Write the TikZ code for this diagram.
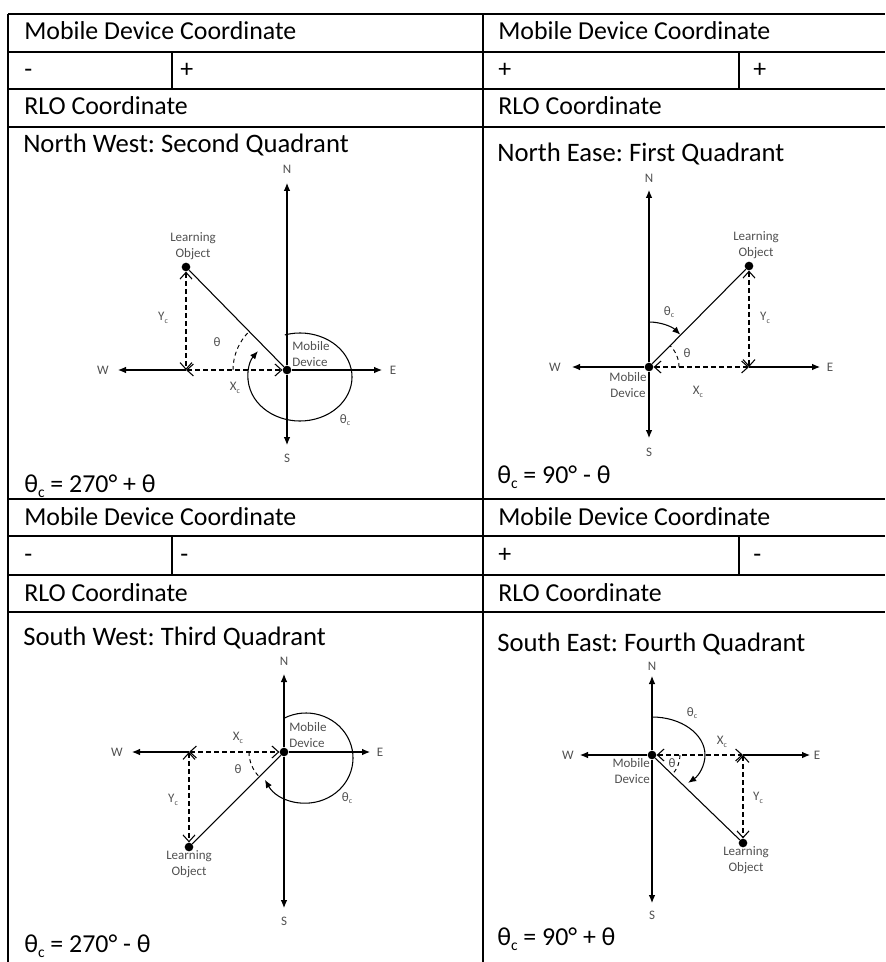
\documentclass[tikz,border=0pt]{standalone}
\usepackage{fontspec}
\usepackage{graphicx}
\setmainfont{Carlito}
\frenchspacing
\usetikzlibrary{arrows.meta}
\definecolor{lblgray}{RGB}{80,80,80}
\newcommand{\subc}{\raisebox{-0.45ex}{\scalebox{0.6}{c}}}
\tikzset{
  cell/.style={anchor=base west, inner sep=0pt, font=\fontsize{19.4}{23}\selectfont},
  head/.style={anchor=base west, inner sep=0pt, font=\fontsize{20}{24}\selectfont},
  lbl/.style={inner sep=0pt, text=lblgray, font=\fontsize{9.75}{12}\selectfont, align=center},
  dot/.style={circle, fill=black, inner sep=0pt, minimum size=6.5pt},
  grid/.style={line width=1.5pt},
  axis/.style={line width=0.8pt, -{Latex[length=6pt,width=5pt]}},
  dim/.style={line width=0.8pt, dash pattern=on 3.5pt off 2.5pt, {Straight Barb[length=5pt,width=9pt]}-{Straight Barb[length=5pt,width=9pt]}},
  ray/.style={line width=0.8pt},
  ang/.style={line width=0.8pt, -{Latex[length=6pt,width=5pt]}},
  angd/.style={line width=0.7pt, dash pattern=on 3pt off 2.5pt}
}
\begin{document}
\begin{tikzpicture}[x=0.75pt,y=-0.75pt]
    \useasboundingbox (0,0) rectangle (885,962);
    % table
    \draw[grid] (8,14) -- (885,14) (8,52) -- (885,52) (8,89) -- (885,89) (8,127) -- (885,127)
        (8,499) -- (885,499) (8,536) -- (885,536) (8,575) -- (885,575) (8,612) -- (885,612);
    \draw[grid] (8,14) -- (8,962) (483,14) -- (483,962)
        (172,52) -- (172,89) (739,52) -- (739,89) (172,536) -- (172,575) (739,536) -- (739,575);
    \begin{scope}[every node/.style={cell}]
        \node (t1) at (24,40) {Mobile Device Coordinate};
        \node (t2) at (498,40) {Mobile Device Coordinate};
        \node (t3) at (24,78) {-};
        \node (t4) at (180,78) {+};
        \node (t5) at (498,78) {+};
        \node (t6) at (753,78) {+};
        \node (t7) at (24,115) {RLO Coordinate};
        \node (t8) at (498,115) {RLO Coordinate};
        \node[head] (t9) at (23,153) {North West: Second Quadrant};
        \node[head] (t10) at (497,162) {North Ease: First Quadrant};
        \node (t11) at (24,492) {θ\subc{} = 270° + θ};
        \node (t12) at (497,483) {θ\subc{} = 90° - θ};
        \node (t13) at (24,525) {Mobile Device Coordinate};
        \node (t14) at (498,525) {Mobile Device Coordinate};
        \node (t15) at (24,562) {-};
        \node (t16) at (180,562) {-};
        \node (t17) at (498,562) {+};
        \node (t18) at (753,562) {-};
        \node (t19) at (24,601) {RLO Coordinate};
        \node (t20) at (498,601) {RLO Coordinate};
        \node[head] (t21) at (23,645) {South West: Third Quadrant};
        \node[head] (t22) at (497,651) {South East: Fourth Quadrant};
        \node (t23) at (24,952) {θ\subc{} = 270° - θ};
        \node (t24) at (497,945) {θ\subc{} = 90° + θ};
    \end{scope}
    % north west
    \begin{scope}[every node/.style={lbl}]
        \node[dot] (o1) at (287,370) {};
        \node[dot] (lo1) at (186,267) {};
        \coordinate (c1) at (186,370);
        \coordinate (m1) at (300,377);
        \coordinate (n1) at (287,183);
        \coordinate (s1) at (287,445);
        \coordinate (w1) at (118,370);
        \coordinate (e1) at (382,370);
        \node (ln1) at (287,169) {N};
        \node (ls1) at (287,458) {S};
        \node (lw1) at (103,370) {W};
        \node (le1) at (393,370) {E};
        \node (llo1) at (193,246) {Learning\\Object};
        \node[anchor=west, align=left] (lmd1) at (292,354) {Mobile\\Device};
        \node (ly1) at (163,318) {Y\subc};
        \node (lx1) at (235,388) {X\subc};
        \node (lt1) at (217,342) {θ};
        \node (ltc1) at (345,420) {θ\subc};
    \end{scope}
    \draw[axis] (o1) -- (n1);
    \draw[axis] (o1) -- (s1);
    \draw[axis] (c1) -- (w1);
    \draw[axis] (o1) -- (e1);
    \draw[ray] (o1) -- (lo1);
    \draw[dim] (lo1) -- (c1);
    \draw[dim] (c1) -- (o1);
    \draw[angd] (o1.center) ++(180:54) arc[start angle=180, end angle=226, radius=54];
    \draw[ang] (m1) ++(-107:52 and 44) arc[start angle=-107, end angle=216, x radius=52, y radius=44];
    % north east
    \begin{scope}[every node/.style={lbl}]
        \node[dot] (o2) at (649,367) {};
        \node[dot] (lo2) at (749,266) {};
        \coordinate (c2) at (749,367);
        \coordinate (n2) at (649,190);
        \coordinate (s2) at (649,438);
        \coordinate (w2) at (572,367);
        \coordinate (e2) at (820,367);
        \node (ln2) at (649,178) {N};
        \node (ls2) at (649,452) {S};
        \node (lw2) at (555,367) {W};
        \node (le2) at (830,367) {E};
        \node (llo2) at (756,245) {Learning\\Object};
        \node (lmd2) at (628,385) {Mobile\\Device};
        \node (ly2) at (765,318) {Y\subc};
        \node (lx2) at (698,392) {X\subc};
        \node (lt2) at (687,353) {θ};
        \node (ltc2) at (669,312) {θ\subc};
    \end{scope}
    \draw[axis] (o2) -- (n2);
    \draw[axis] (o2) -- (s2);
    \draw[axis] (o2) -- (w2);
    \draw[axis] (c2) -- (e2);
    \draw[ray] (o2) -- (lo2);
    \draw[dim] (lo2) -- (c2);
    \draw[dim] (o2) -- (c2);
    \draw[angd] (o2.center) ++(0:30) arc[start angle=0, end angle=-45, radius=30];
    \draw[ang] (o2.center) ++(-90:45) arc[start angle=-90, end angle=-46, radius=45];
    % south west
    \begin{scope}[every node/.style={lbl}]
        \node[dot] (o3) at (284,752) {};
        \node[dot] (lo3) at (189,847) {};
        \coordinate (c3) at (189,752);
        \coordinate (m3) at (306,758);
        \coordinate (n3) at (284,674);
        \coordinate (s3) at (284,908);
        \coordinate (w3) at (132,752);
        \coordinate (e3) at (370,752);
        \node (ln3) at (284,661) {N};
        \node (ls3) at (284,921) {S};
        \node (lw3) at (117,752) {W};
        \node (le3) at (380,752) {E};
        \node (llo3) at (189,864) {Learning\\Object};
        \node[anchor=west, align=left] (lmd3) at (289,735) {Mobile\\Device};
        \node (ly3) at (173,800) {Y\subc};
        \node (lx3) at (238,738) {X\subc};
        \node (lt3) at (238,769) {θ};
        \node (ltc3) at (347,798) {θ\subc};
    \end{scope}
    \draw[axis] (o3) -- (n3);
    \draw[axis] (o3) -- (s3);
    \draw[axis] (c3) -- (w3);
    \draw[axis] (o3) -- (e3);
    \draw[ray] (o3) -- (lo3);
    \draw[dim] (c3) -- (lo3);
    \draw[dim] (c3) -- (o3);
    \draw[angd] (o3.center) ++(180:35) arc[start angle=180, end angle=135, radius=35];
    \draw[ang] (m3) ++(-118:47 and 45) arc[start angle=-118, end angle=151, x radius=47, y radius=45];
    % south east
    \begin{scope}[every node/.style={lbl}]
        \node[dot] (o4) at (652,755) {};
        \node[dot] (lo4) at (743,843) {};
        \coordinate (c4) at (743,755);
        \coordinate (n4) at (652,676);
        \coordinate (s4) at (652,903);
        \coordinate (w4) at (580,755);
        \coordinate (e4) at (810,755);
        \node (ln4) at (652,666) {N};
        \node (ls4) at (652,915) {S};
        \node (lw4) at (568,755) {W};
        \node (le4) at (817,755) {E};
        \node (llo4) at (746,860) {Learning\\Object};
        \node[anchor=east, align=right] (lmd4) at (650,771) {Mobile\\Device};
        \node (ly4) at (758,798) {Y\subc};
        \node (lx4) at (722,742) {X\subc};
        \node (lt4) at (672,763) {θ};
        \node (ltc4) at (692,713) {θ\subc};
    \end{scope}
    \draw[axis] (o4) -- (n4);
    \draw[axis] (o4) -- (s4);
    \draw[axis] (o4) -- (w4);
    \draw[axis] (c4) -- (e4);
    \draw[ray] (o4) -- (lo4);
    \draw[dim] (c4) -- (lo4);
    \draw[dim] (o4) -- (c4);
    \draw[angd] (o4.center) ++(0:28) arc[start angle=0, end angle=44, radius=28];
    \draw[ang] (o4.center) ++(-90:53 and 38) arc[start angle=-90, end angle=47, x radius=53, y radius=38];
\end{tikzpicture}
\end{document}
